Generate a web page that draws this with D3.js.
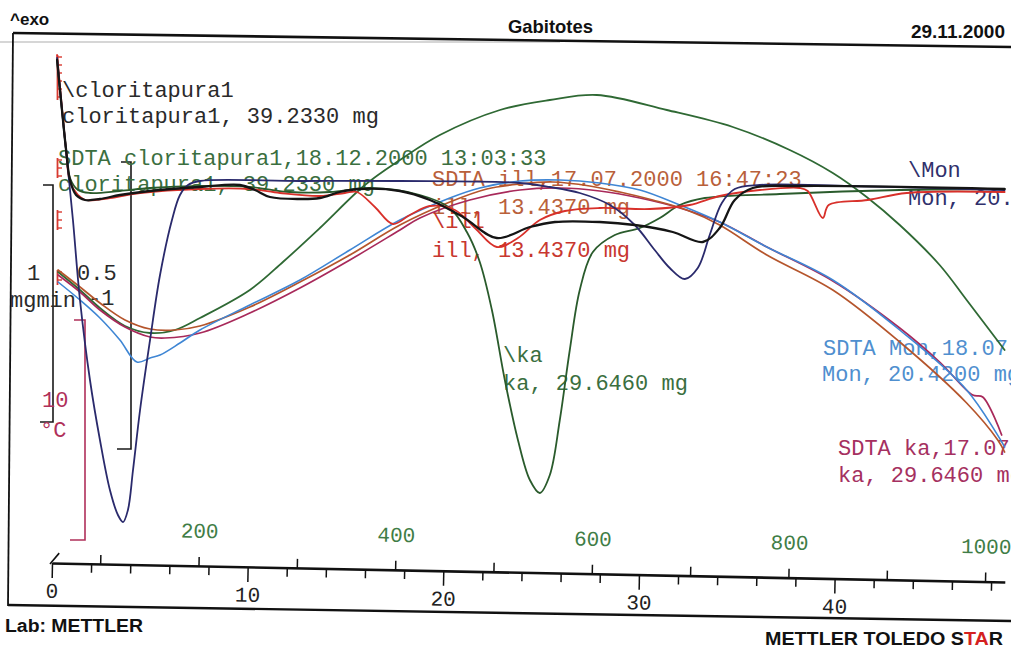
<!DOCTYPE html>
<html>
<head>
<meta charset="utf-8">
<script src="https://cdn.jsdelivr.net/npm/d3@7"></script>
<style>
  html, body { margin: 0; padding: 0; background: #ffffff; }
  svg { display: block; }
  .mono { font-family: "Liberation Mono", "Courier New", monospace; font-size: 22px; }
  .head { font-family: "Liberation Sans", Arial, sans-serif; font-weight: bold; }
</style>
</head>
<body>
<svg id="chart" width="1011" height="652"></svg>
<script>
// ---- Time / temperature axis ----------------------------------------
const timeDomain = [0, 48.7];          // min
const startTemp = 51;                  // °C at t = 0
const heatingRate = 19.9;              // °C/min
const timeTicks = d3.range(0, 48.7, 2);
const timeLabels = [0, 10, 20, 30, 40];
const tempTicks = [100, 200, 300, 400, 500, 600, 700, 800, 900, 1000];
const tempLabels = [200, 400, 600, 800, 1000];

// ---- Curves: [time (min), signal] ------------------------------------
// DTG curves
const dtgCloritapura = [
  [0.26,12.6],[0.51,7.6],[0.72,3.6],[0.92,0.6],[1.23,-0.9],[1.69,-1.4],[2.45,-1.3],
  [3.47,-0.9],[5.01,-0.5],[7.56,-0.1],[9.6,0.1],[10.37,-0.4],[11.14,-1.1],[12.67,-1.3],
  [13.69,-1.2],[14.71,-0.6],[15.73,-0.3],[17.78,-0.5],[19.31,-1.4],[21.0,-3.1],[22.73,-5.2],
  [24.42,-4.1],[25.7,-3.6],[27.99,-3.6],[29.78,-3.9],[31.72,-4.6],[33.26,-5.6],[34.12,-4.2],
  [34.89,-1.4],[35.81,-0.2],[38.21,0],[48.68,-0.3]
];
const dtgIll = [
  [0.26,13.1],[0.51,7.8],[0.72,3.6],[0.92,0.4],[1.33,-0.9],[1.69,-1.4],[2.96,-1.2],
  [4.5,-0.7],[7.56,-0.3],[10.11,-0.3],[11.65,-0.7],[13.69,-1.0],[14.97,-0.7],[15.58,-0.6],
  [16.5,-2.1],[17.42,-3.8],[18.29,-2.9],[19.31,-2.0],[20.59,-2.4],[21.61,-4.2],[22.73,-6.1],
  [23.81,-5.2],[24.93,-3.4],[26.21,-2.5],[27.99,-2.2],[30.55,-2.3],[32.59,-1.9],[34.12,-1.0],
  [36.17,-0.4],[38.21,-0.2],[38.62,-0.5],[39.39,-3.2],[39.69,-1.9],[41.69,-1.4],[43.68,-0.7],
  [48.68,-0.6]
];
const dtgKa = [
  [0.26,12.6],[0.51,7.6],[0.72,3.6],[0.92,0.8],[1.33,-0.4],[1.94,-0.7],[3.47,-0.5],
  [5.01,-0.2],[7.56,0],[10.11,-0.1],[12.16,-0.6],[14.2,-0.6],[16.25,-0.2],[18.8,-0.9],
  [20.33,-2.2],[21.2,-4.6],[21.86,-7.6],[22.48,-12.4],[23.14,-19.4],[23.81,-25.4],[24.42,-29.4],
  [24.93,-30.7],[25.44,-28.9],[25.95,-23.4],[26.46,-16.4],[26.97,-10.4],[27.64,-6.6],[28.76,-4.9],
  [30.04,-4.2],[31.06,-3.2],[32.08,-1.9],[33.36,-1.2],[37.19,-0.8],[43.32,-0.4],[48.68,-0.3]
];
const dtgMon = [
  [0.26,12.8],[0.51,7.6],[0.77,2.6],[1.07,-3.4],[1.43,-11.4],[1.94,-19.4],[2.45,-25.4],
  [2.96,-30.4],[3.37,-32.9],[3.63,-33.6],[3.88,-32.4],[4.14,-28.4],[4.5,-22.4],[5.01,-15.4],
  [5.52,-8.9],[6.13,-3.4],[6.54,-0.9],[6.95,0.1],[7.56,0.5],[12.67,0.5],[17.78,0.5],
  [23.91,0.3],[25.44,-0.1],[26.97,-0.7],[28.51,-1.9],[29.78,-3.9],[30.8,-6.4],[31.57,-8.2],
  [32.34,-9.3],[33.0,-8.2],[33.61,-4.9],[34.23,-1.7],[34.89,-0.3],[36.17,0.1],[40.77,0],
  [48.68,-0.4]
];
// SDTA curves
const sdtaCloritapura = [
  [0.31,-8.6],[1.43,-10.4],[2.45,-12.2],[3.73,-14.0],[5.01,-14.7],[6.28,-14.4],[7.56,-13.2],
  [10.11,-10.4],[11.8,-7.6],[13.69,-4.2],[15.99,0.1],[17.78,2.6],[19.82,5.1],[22.89,7.6],
  [25.44,8.6],[27.84,9.1],[31.42,7.6],[34.79,5.9],[37.7,3.6],[39.9,1.3],[41.63,-1.1],
  [43.32,-3.9],[45.36,-7.9],[46.74,-11.4],[48.68,-16.4]
];
const sdtaIll = [
  [0.31,-8.4],[1.43,-10.1],[2.45,-11.7],[3.73,-13.4],[5.01,-14.3],[6.28,-14.4],[7.56,-14.0],
  [10.11,-12.1],[12.67,-9.6],[15.22,-6.9],[17.78,-3.9],[20.33,-1.6],[22.22,-0.3],[23.91,0.2],
  [25.59,0.4],[27.48,0],[29.02,-0.6],[30.7,-1.4],[32.44,-2.4],[34.12,-3.9],[36.53,-6.9],
  [39.9,-10.4],[43.32,-15.6],[46.74,-21.7],[48.33,-25.4],[48.68,-26.6]
];
const sdtaKa = [
  [0.31,-8.9],[1.43,-10.6],[2.45,-12.4],[3.73,-14.1],[5.01,-15.1],[5.77,-15.2],[7.56,-14.7],
  [10.11,-12.7],[12.67,-10.2],[15.22,-7.4],[17.78,-4.4],[18.8,-3.2],[21.35,-1.4],[23.91,-0.4],
  [25.95,-0.2],[27.99,-0.5],[30.04,-1.2],[32.08,-2.2],[34.12,-3.6],[36.53,-6.1],[39.9,-9.5],
  [43.32,-14.2],[45.36,-17.6],[47.05,-20.9],[47.56,-21.1],[48.53,-24.9]
];
const sdtaMon = [
  [0.31,-9.6],[1.43,-11.4],[2.45,-13.2],[3.47,-15.4],[4.34,-17.6],[5.01,-17.2],[5.52,-16.9],
  [6.54,-15.7],[7.56,-14.4],[10.11,-11.9],[12.67,-9.4],[15.22,-6.4],[17.78,-3.4],[20.33,-1.2],
  [21.86,-0.2],[23.91,0.5],[25.95,0.6],[27.99,0.3],[30.04,-0.4],[32.08,-1.9],[34.12,-3.6],
  [36.53,-6.1],[39.9,-9.4],[43.32,-14.4],[46.74,-20.4],[48.68,-26.1]
];

// ---- Series styling ---------------------------------------------------
const series = [
  { data: sdtaCloritapura, color: "#2f6934", width: 1.8 },
  { data: sdtaKa,          color: "#a8295a", width: 1.7 },
  { data: sdtaIll,         color: "#b5552c", width: 1.7 },
  { data: sdtaMon,         color: "#3f86d4", width: 1.6 },
  { data: dtgKa,           color: "#2a5b2c", width: 1.8 },
  { data: dtgIll,          color: "#d8302a", width: 1.8 },
  { data: dtgMon,          color: "#2a2a6c", width: 1.8 },
  { data: dtgCloritapura,  color: "#151515", width: 2.3 }
];

// ---- Curve labels ------------------------------------------------------
const labels = [
  { text: "\\cloritapura1",                          x: 62,  y: 97,  color: "#2a2a2a" },
  { text: "cloritapura1, 39.2330 mg",                x: 62,  y: 123, color: "#2a2a2a" },
  { text: "SDTA cloritapura1,18.12.2000 13:03:33",   x: 58,  y: 165, color: "#3b6f3f" },
  { text: "cloritapura1, 39.2330 mg",                x: 58,  y: 191, color: "#3b6f3f" },
  { text: "SDTA ill,17.07.2000 16:47:23",            x: 432, y: 186, color: "#b9603a" },
  { text: "ill, 13.4370 mg",                         x: 432, y: 214, color: "#b9603a" },
  { text: "\\ill",                                   x: 432, y: 228, color: "#c8372f" },
  { text: "ill, 13.4370 mg",                         x: 432, y: 257, color: "#c8372f" },
  { text: "\\ka",                                    x: 503, y: 362, color: "#3b6f3f" },
  { text: "ka, 29.6460 mg",                          x: 503, y: 390, color: "#3b6f3f" },
  { text: "\\Mon",                                   x: 908, y: 177, color: "#30306c" },
  { text: "Mon, 20.4200 mg",                         x: 908, y: 205, color: "#30306c" },
  { text: "SDTA Mon,18.07.2000",                     x: 823, y: 355, color: "#4f8fcf" },
  { text: "Mon, 20.4200 mg",                         x: 822, y: 381, color: "#4f8fcf" },
  { text: "SDTA ka,17.07.2000",                      x: 838, y: 455, color: "#a53060" },
  { text: "ka, 29.6460 mg",                          x: 838, y: 482, color: "#a53060" }
];

// ---- Scales ------------------------------------------------------------
const svg = d3.select("#chart");
const x = d3.scaleLinear().domain(timeDomain).range([52, 1005]);
const y = d3.scaleLinear().domain([-38, 14]).range([566, 46]);
const tempScale = d3.scaleLinear()
  .domain([startTemp, startTemp + heatingRate * timeDomain[1]])
  .range(x.range());

// ---- Page frame and header ----------------------------------------------
const frame = svg.append("g").attr("fill", "none").attr("stroke", "#111");
frame.append("line").attr("x1", 0).attr("y1", 42).attr("x2", 560).attr("y2", 42)
  .attr("stroke", "#c8c8c8").attr("stroke-width", 1.5);
frame.append("path").attr("d", "M13,33 L1011,47").attr("stroke-width", 2.6);
frame.append("path").attr("d", "M13,33 L8,606").attr("stroke-width", 1.8);
frame.append("path").attr("d", "M8,605 L1011,621").attr("stroke-width", 2.4);

svg.append("text").attr("class", "head").attr("x", 10).attr("y", 25)
  .attr("font-size", 17).attr("fill", "#111").text("^exo");
svg.append("text").attr("class", "head").attr("x", 508).attr("y", 33)
  .attr("font-size", 19).attr("textLength", 85).attr("lengthAdjust", "spacingAndGlyphs")
  .attr("fill", "#111").text("Gabitotes");
svg.append("text").attr("class", "head").attr("x", 1005).attr("y", 38)
  .attr("text-anchor", "end").attr("font-size", 19).attr("fill", "#111").text("29.11.2000");
svg.append("text").attr("class", "head").attr("x", 5).attr("y", 632)
  .attr("font-size", 18).attr("textLength", 138).attr("lengthAdjust", "spacingAndGlyphs")
  .attr("fill", "#111").text("Lab: METTLER");
const brand = svg.append("text").attr("class", "head").attr("x", 765).attr("y", 645)
  .attr("font-size", 18).attr("textLength", 238).attr("lengthAdjust", "spacingAndGlyphs")
  .attr("fill", "#111");
brand.append("tspan").text("METTLER TOLEDO S");
brand.append("tspan").attr("fill", "#d42020").text("TA");
brand.append("tspan").text("R");

// ---- Scale bars on the left ---------------------------------------------
const bars = svg.append("g").attr("fill", "none").attr("stroke-width", 1.6);
bars.append("path").attr("d", "M43,185 H53 V422 H40").attr("stroke", "#1a1a1a");
bars.append("path").attr("d", "M121,162 H131 V449 H117").attr("stroke", "#1a1a1a");
bars.append("path").attr("d", "M74,320 H85 V540 H70").attr("stroke", "#b0305a");
// red ruler marks at the start of the traces
const redMarks = [[55, 100], [158, 178], [210, 230], [270, 285]];
redMarks.forEach(([a, b]) => {
  bars.append("line").attr("x1", 57.5).attr("x2", 57.5).attr("y1", a).attr("y2", b)
    .attr("stroke", "#d83a30").attr("stroke-width", 1.8);
  d3.range(a + 2, b, 8).forEach(v => {
    bars.append("line").attr("x1", 57.5).attr("x2", 62).attr("y1", v).attr("y2", v)
      .attr("stroke", "#d83a30").attr("stroke-width", 1.4);
  });
});

const scaleText = svg.append("g").attr("class", "mono");
scaleText.append("text").attr("x", 27).attr("y", 280).attr("fill", "#2a2a2a").text("1");
scaleText.append("text").attr("x", 77).attr("y", 280).attr("fill", "#2a2a2a").text("0.5");
scaleText.append("text").attr("x", 10).attr("y", 307).attr("fill", "#2a2a2a").text("mgmin");
scaleText.append("text").attr("x", 88).attr("y", 305).attr("fill", "#2a2a2a").text("-1");
scaleText.append("text").attr("x", 42).attr("y", 407).attr("fill", "#b0305a").text("10");
scaleText.append("text").attr("x", 40).attr("y", 437).attr("fill", "#b0305a").text("°C");

// ---- Curve labels (under the traces) -------------------------------------
svg.append("g").attr("class", "mono")
  .selectAll("text").data(labels).join("text")
  .attr("x", d => d.x).attr("y", d => d.y)
  .attr("fill", d => d.color)
  .text(d => d.text);

// ---- Traces ---------------------------------------------------------------
const line = d3.line()
  .x(d => x(d[0]))
  .y(d => y(d[1]))
  .curve(d3.curveCatmullRom.alpha(0.5));

svg.append("g").attr("fill", "none").attr("stroke-linejoin", "round").attr("stroke-linecap", "round")
  .selectAll("path").data(series).join("path")
  .attr("d", d => line(d.data))
  .attr("stroke", d => d.color)
  .attr("stroke-width", d => d.width);

// ---- Time axis with temperature ticks --------------------------------------
const axisG = svg.append("g")
  .attr("transform", "translate(0,563) rotate(1.14,52,0)");

const timeAxis = d3.axisBottom(x)
  .tickValues(timeTicks)
  .tickSize(9)
  .tickSizeOuter(0)
  .tickPadding(11)
  .tickFormat(d => timeLabels.includes(d) ? d : "");
const tAx = axisG.append("g").call(timeAxis);
tAx.select(".domain").attr("stroke", "#111").attr("stroke-width", 2.6);
tAx.selectAll(".tick line").attr("stroke", "#111").attr("stroke-width", 1.5)
  .attr("y2", d => timeLabels.includes(d) ? 15 : 9);
tAx.selectAll(".tick text")
  .attr("font-family", "\"Liberation Mono\", \"Courier New\", monospace")
  .attr("font-size", 21).attr("fill", "#222");

const tempAxis = d3.axisTop(tempScale)
  .tickValues(tempTicks)
  .tickSize(9)
  .tickSizeOuter(0)
  .tickPadding(19)
  .tickFormat(d => tempLabels.includes(d) ? d : "");
const TAx = axisG.append("g").call(tempAxis);
TAx.select(".domain").remove();
TAx.selectAll(".tick line").attr("stroke", "#111").attr("stroke-width", 1.5);
TAx.selectAll(".tick text")
  .attr("font-family", "\"Liberation Mono\", \"Courier New\", monospace")
  .attr("font-size", 21).attr("fill", "#3f7d46");

// small hook at the start of the axis
axisG.append("path").attr("d", `M${x(0) - 2},1 L${x(0) + 7},-10`)
  .attr("fill", "none").attr("stroke", "#111").attr("stroke-width", 1.6);
</script>
</body>
</html>
